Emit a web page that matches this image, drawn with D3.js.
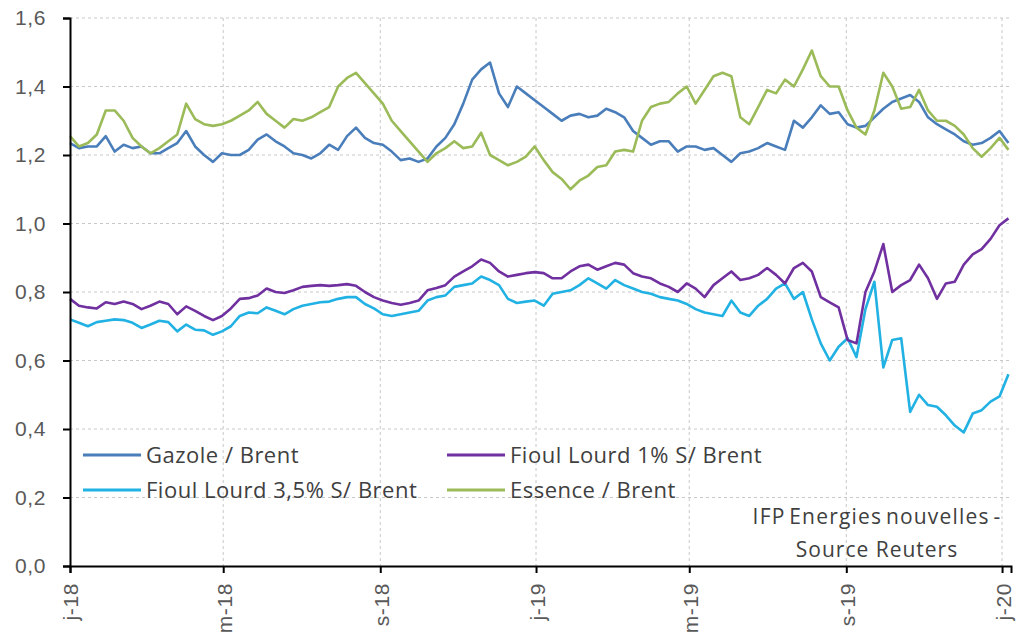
<!DOCTYPE html>
<html>
<head>
<meta charset="utf-8">
<script src="https://cdn.jsdelivr.net/npm/d3@7"></script>
<style>
  body { margin: 0; background: #fff; }
  svg { display: block; font-family: "Open Sans", "Lato", sans-serif; }
</style>
</head>
<body>
<div id="chart"></div>
<script>
// Ratios produits / Brent, points hebdomadaires depuis le 1er janvier 2018
const startDate = "2018-01-01";
const endDate = "2020-01-08";

const tickDates = ["2018-01-01", "2018-05-01", "2018-09-01", "2019-01-01", "2019-05-01", "2019-09-01", "2020-01-01"];
const tickLabels = ["j-18", "m-18", "s-18", "j-19", "m-19", "s-19", "j-20"];
const yTicks = [0, 0.2, 0.4, 0.6, 0.8, 1.0, 1.2, 1.4, 1.6];

const gazole = [
  1.235, 1.22, 1.225, 1.225, 1.255, 1.21, 1.23, 1.22, 1.225, 1.205,
  1.205, 1.22, 1.235, 1.27, 1.225, 1.20, 1.18, 1.205, 1.20, 1.20,
  1.215, 1.245, 1.26, 1.24, 1.225, 1.205, 1.20, 1.19, 1.205, 1.23,
  1.215, 1.255, 1.28, 1.25, 1.235, 1.23, 1.21, 1.185, 1.19, 1.18,
  1.19, 1.225, 1.25, 1.29, 1.35, 1.42, 1.45, 1.47, 1.38, 1.34,
  1.40, 1.38, 1.36, 1.34, 1.32, 1.30, 1.315, 1.32, 1.31, 1.315,
  1.335, 1.325, 1.31, 1.27, 1.25, 1.23, 1.24, 1.24, 1.21, 1.225,
  1.225, 1.215, 1.22, 1.20, 1.18, 1.205, 1.21, 1.22, 1.235, 1.225,
  1.215, 1.30, 1.28, 1.31, 1.345, 1.32, 1.325, 1.29, 1.28, 1.285,
  1.31, 1.335, 1.355, 1.365, 1.375, 1.355, 1.31, 1.29, 1.275, 1.26,
  1.24, 1.23, 1.235, 1.25, 1.27, 1.235
];

const essence = [
  1.255, 1.225, 1.235, 1.26, 1.33, 1.33, 1.30, 1.25, 1.225, 1.205,
  1.22, 1.24, 1.26, 1.35, 1.305, 1.29, 1.285, 1.29, 1.30, 1.315,
  1.33, 1.355, 1.32, 1.30, 1.28, 1.305, 1.30, 1.31, 1.325, 1.34,
  1.40, 1.425, 1.44, 1.41, 1.38, 1.35, 1.30, 1.27, 1.24, 1.21,
  1.18, 1.205, 1.22, 1.24, 1.22, 1.225, 1.265, 1.20, 1.185, 1.17,
  1.18, 1.195, 1.225, 1.185, 1.15, 1.13, 1.10, 1.125, 1.14, 1.165,
  1.17, 1.21, 1.215, 1.21, 1.30, 1.34, 1.35, 1.355, 1.38, 1.40,
  1.35, 1.39, 1.43, 1.44, 1.43, 1.31, 1.29, 1.34, 1.39, 1.38,
  1.42, 1.40, 1.45, 1.505, 1.43, 1.40, 1.40, 1.33, 1.28, 1.26,
  1.33, 1.44, 1.40, 1.335, 1.34, 1.39, 1.33, 1.30, 1.30, 1.285,
  1.26, 1.22, 1.195, 1.22, 1.25, 1.215
];

const fioul1 = [
  0.78, 0.76, 0.755, 0.752, 0.77, 0.765, 0.772, 0.765, 0.75, 0.76,
  0.772, 0.765, 0.735, 0.758, 0.745, 0.73, 0.718, 0.73, 0.752, 0.78,
  0.782, 0.79, 0.81, 0.80, 0.797, 0.805, 0.815, 0.818, 0.82, 0.818,
  0.82, 0.823, 0.818, 0.80, 0.785, 0.775, 0.768, 0.763, 0.768, 0.775,
  0.805, 0.812, 0.82, 0.845, 0.86, 0.875, 0.895, 0.885, 0.86, 0.845,
  0.85, 0.855, 0.858, 0.855, 0.84, 0.84, 0.86, 0.875, 0.88, 0.865,
  0.875, 0.885, 0.88, 0.855, 0.845, 0.84, 0.825, 0.815, 0.80, 0.825,
  0.81, 0.785, 0.82, 0.84, 0.86, 0.835, 0.84, 0.85, 0.87, 0.85,
  0.825, 0.87, 0.885, 0.86, 0.785, 0.77, 0.755, 0.66, 0.65, 0.80,
  0.86, 0.94, 0.80, 0.82, 0.835, 0.88, 0.84, 0.78, 0.825, 0.83,
  0.88, 0.91, 0.925, 0.955, 0.995, 1.015
];

const fioul35 = [
  0.72, 0.71, 0.70, 0.712, 0.716, 0.72, 0.718, 0.71, 0.695, 0.705,
  0.716, 0.712, 0.685, 0.705, 0.69, 0.688, 0.675, 0.685, 0.70, 0.73,
  0.74, 0.738, 0.755, 0.745, 0.735, 0.75, 0.76, 0.765, 0.77, 0.772,
  0.78, 0.785, 0.785, 0.765, 0.752, 0.735, 0.73, 0.735, 0.74, 0.745,
  0.775, 0.785, 0.79, 0.815, 0.82, 0.825, 0.845, 0.835, 0.82, 0.78,
  0.768, 0.772, 0.775, 0.76, 0.795, 0.80, 0.805, 0.82, 0.84, 0.825,
  0.81, 0.835, 0.82, 0.81, 0.80, 0.795, 0.785, 0.78, 0.775, 0.765,
  0.75, 0.74, 0.735, 0.73, 0.775, 0.74, 0.73, 0.76, 0.78, 0.81,
  0.825, 0.78, 0.80, 0.72, 0.65, 0.60, 0.64, 0.665, 0.61, 0.75,
  0.83, 0.58, 0.66, 0.665, 0.45, 0.50, 0.47, 0.465, 0.44, 0.41,
  0.39, 0.445, 0.455, 0.48, 0.495, 0.56
];

const seriesNames = ["Gazole / Brent", "Fioul Lourd 1% S/ Brent", "Fioul Lourd 3,5% S/ Brent", "Essence / Brent"];
const seriesColors = ["#4a7ebb", "#7030a0", "#21b1e3", "#9bbb59"];

// dates hebdomadaires
const parse = d3.timeParse("%Y-%m-%d");
const t0 = parse(startDate);
const dates = gazole.map((_, i) => d3.timeDay.offset(t0, 7 * i));

const width = 1016, height = 636;
const margin = { top: 18, right: 5, bottom: 70, left: 70 };

const svg = d3.select("#chart")
  .append("svg")
    .attr("width", width)
    .attr("height", height);

const x = d3.scaleTime()
  .domain([t0, parse(endDate)])
  .range([margin.left, width - margin.right]);

const y = d3.scaleLinear()
  .domain([0, 1.6])
  .range([height - margin.bottom, margin.top]);

// grille pointillée
svg.append("g")
  .selectAll("line.h")
  .data(yTicks.slice(1))
  .enter()
  .append("line")
    .attr("x1", margin.left)
    .attr("x2", width - margin.right)
    .attr("y1", d => y(d))
    .attr("y2", d => y(d))
    .attr("stroke", "#c8c8c8")
    .attr("stroke-dasharray", "3,3");

svg.append("g")
  .selectAll("line.v")
  .data(tickDates.slice(1))
  .enter()
  .append("line")
    .attr("x1", d => x(parse(d)))
    .attr("x2", d => x(parse(d)))
    .attr("y1", margin.top)
    .attr("y2", height - margin.bottom)
    .attr("stroke", "#c8c8c8")
    .attr("stroke-dasharray", "3,3");

// courbes
const allSeries = [gazole, fioul1, fioul35, essence];
const drawOrder = [2, 1, 0, 3];
const line = d3.line()
  .x((d, i) => x(dates[i]))
  .y(d => y(d));

drawOrder.forEach(k => {
  svg.append("path")
    .datum(allSeries[k])
    .attr("fill", "none")
    .attr("stroke", seriesColors[k])
    .attr("stroke-width", 2.6)
    .attr("stroke-linejoin", "round")
    .attr("d", line);
});

// axes
const yAxis = svg.append("g")
  .attr("transform", `translate(${margin.left},0)`)
  .call(d3.axisLeft(y)
    .tickValues(yTicks)
    .tickSize(7)
    .tickPadding(17)
    .tickFormat(d => d3.format(".1f")(d).replace(".", ",")));

const xAxis = svg.append("g")
  .attr("transform", `translate(0,${height - margin.bottom})`)
  .call(d3.axisBottom(x)
    .tickValues(tickDates.map(parse))
    .tickSize(7)
    .tickFormat((d, i) => tickLabels[i]));

[yAxis, xAxis].forEach(a => {
  a.select(".domain").attr("stroke", "#000").attr("stroke-width", 2);
  a.selectAll(".tick line").attr("stroke", "#000").attr("stroke-width", 2);
  a.selectAll("text")
    .style("font-size", "21px")
    .style("letter-spacing", "0.6px")
    .attr("fill", "#595959");
});

xAxis.selectAll("text")
  .attr("transform", "rotate(-90)")
  .attr("text-anchor", "end")
  .attr("x", -17)
  .attr("y", 0)
  .attr("dy", "0.38em");

// légende
const legendPos = [
  { x: 83, y: 455 }, { x: 447, y: 455 },
  { x: 83, y: 490 }, { x: 447, y: 490 }
];
const legend = svg.append("g");
seriesNames.forEach((name, k) => {
  const p = legendPos[k];
  legend.append("line")
    .attr("x1", p.x).attr("x2", p.x + 58)
    .attr("y1", p.y).attr("y2", p.y)
    .attr("stroke", seriesColors[k])
    .attr("stroke-width", 3);
  legend.append("text")
    .attr("x", p.x + 63)
    .attr("y", p.y)
    .attr("dy", "0.35em")
    .style("font-size", "22px")
    .style("letter-spacing", "0.5px")
    .attr("fill", "#404040")
    .text(name);
});

// source
svg.append("text")
  .attr("x", 877).attr("y", 517)
  .attr("dy", "0.35em")
  .attr("text-anchor", "middle")
  .style("font-size", "21px")
  .style("letter-spacing", "1.2px")
  .style("word-spacing", "-3px")
  .attr("fill", "#404040")
  .text("IFP Energies nouvelles -");

svg.append("text")
  .attr("x", 877).attr("y", 550)
  .attr("dy", "0.35em")
  .attr("text-anchor", "middle")
  .style("font-size", "21px")
  .style("letter-spacing", "1px")
  .attr("fill", "#404040")
  .text("Source Reuters");
</script>
</body>
</html>
